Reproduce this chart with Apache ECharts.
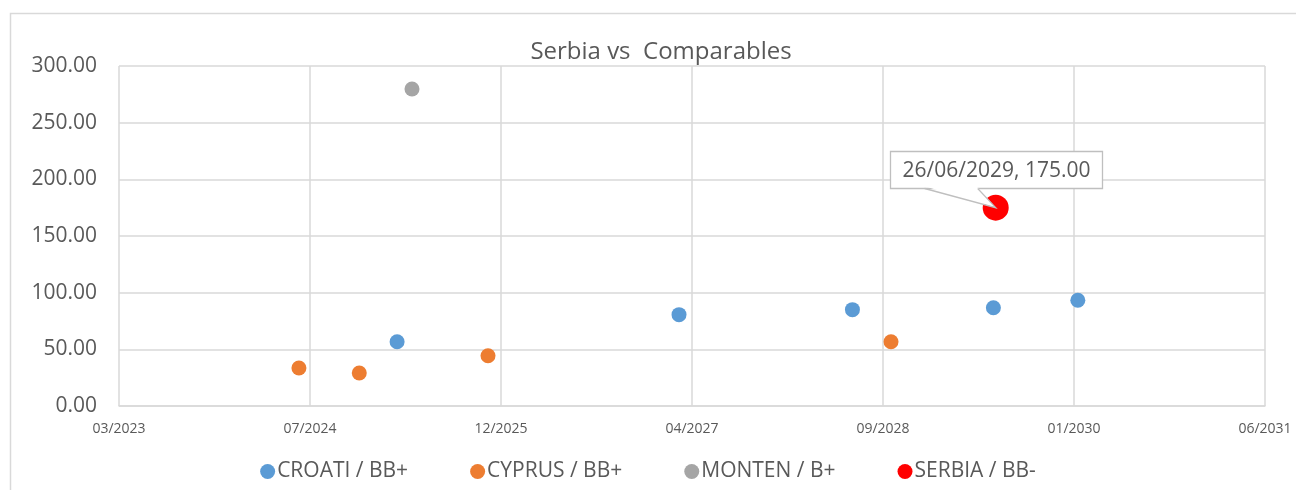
<!DOCTYPE html>
<html><head><meta charset="utf-8">
<script src="https://cdn.jsdelivr.net/npm/echarts@6/dist/echarts.min.js"></script>
<style>html,body{margin:0;padding:0;background:#fff}#c{width:1296px;height:490px}</style>
</head><body><div id="c"></div>
<script>
// X axis: Excel date serials, ticks every 500 days from 45000 (15/03/2023)
const xMin = 45000, xMax = 48000, xStep = 500;
const xTickLabels = ['03/2023','07/2024','12/2025','04/2027','09/2028','01/2030','06/2031'];
const yMin = 0, yMax = 300, yStep = 50;

const seriesNames = ['CROATI / BB+','CYPRUS / BB+','MONTEN / B+','SERBIA / BB-'];
const croatiDates  = ['2025-03-12','2027-03-20','2028-06-16','2029-06-20','2030-01-27'];
const croatiValues = [56.7, 80.6, 85.0, 86.7, 93.3];
const cyprusDates  = ['2024-06-28','2024-12-03','2025-11-05','2028-09-25'];
const cyprusValues = [33.5, 29.1, 44.4, 56.7];
const montenDates  = ['2025-04-20'];
const montenValues = [279.7];
const serbiaDates  = ['2029-06-26'];
const serbiaValues = [175.0];

const colors = ['#5B9BD5','#ED7D31','#A5A5A5','#FF0000'];
const FONT = '"Open Sans", "Noto Sans", sans-serif';
const TXT = '#595959';
const GRID = '#d9d9d9';

function serial(s){const p=s.split('-').map(Number);return (Date.UTC(p[0],p[1]-1,p[2])-Date.UTC(1899,11,30))/86400000;}
function pairs(d,v){return d.map((s,i)=>[serial(s),v[i]]);}
function dmy(s){const p=s.split('-');return p[2]+'/'+p[1]+'/'+p[0];}

const chart = echarts.init(document.getElementById('c'), null, {renderer:'canvas'});
const sizes = [15,15,15,26];
const datasets = [pairs(croatiDates,croatiValues),pairs(cyprusDates,cyprusValues),pairs(montenDates,montenValues),pairs(serbiaDates,serbiaValues)];

chart.setOption({
  animation:false,
  backgroundColor:'#fff',
  textStyle:{fontFamily:FONT},
  title:{text:'Serbia vs  Comparables', left:656, textAlign:'center', top:35,
    textStyle:{fontFamily:FONT,fontSize:24,fontWeight:'normal',color:TXT}},
  grid:{left:119,right:31,top:66,bottom:84,containLabel:false},
  legend:{bottom:3,left:'center',icon:'circle',itemWidth:15,itemHeight:15,itemGap:62,
    textStyle:{fontFamily:FONT,fontSize:21,color:TXT,padding:[0,0,0,-3]},
    data:seriesNames},
  xAxis:{type:'value',min:xMin,max:xMax,interval:xStep,
    axisLine:{show:true,lineStyle:{color:GRID,width:1.5}},axisTick:{show:false},
    splitLine:{show:true,lineStyle:{color:GRID,width:1.5}},
    axisLabel:{fontFamily:FONT,fontSize:14,color:TXT,margin:16,
      formatter:v=>xTickLabels[Math.round((v-xMin)/xStep)]||''}},
  yAxis:{type:'value',min:yMin,max:yMax,interval:yStep,
    axisLine:{show:false},axisTick:{show:false},
    splitLine:{show:true,lineStyle:{color:GRID,width:1.5}},
    axisLabel:{fontFamily:FONT,fontSize:21,color:TXT,margin:22,padding:[3,0,0,0],formatter:v=>v.toFixed(2)}},
  series:seriesNames.map((n,i)=>({name:n,type:'scatter',data:datasets[i],symbol:'circle',
    symbolSize:sizes[i],itemStyle:{color:colors[i],opacity:1},z:2+i}))
});

// callout for Serbia point
const sp = chart.convertToPixel({seriesIndex:3}, datasets[3][0]);
const px = sp[0], py = sp[1];
const calloutText = dmy(serbiaDates[0]) + ', ' + serbiaValues[0].toFixed(2);
const bw = 212, bh = 37;
const bx = Math.round(px - 106) + 0.5, by = Math.round(py - 57) + 0.5;
const wL = px - 71, wR = px - 18, wy = by + bh;
chart.setOption({graphic:[
  {type:'rect',silent:true,z:0,shape:{x:10.5,y:13.5,width:1320,height:520},
    style:{fill:'none',stroke:GRID,lineWidth:1.5}},
  {type:'rect',z:100,shape:{x:bx,y:by,width:bw,height:bh},style:{fill:'#fff',stroke:'#bfbfbf',lineWidth:1.3}},
  {type:'polygon',z:101,shape:{points:[[wL+1,wy-2],[wR-1,wy-2],[px,py]]},style:{fill:'#fff',stroke:null}},
  {type:'polyline',z:102,shape:{points:[[wL,wy],[px,py],[wR,wy]]},style:{fill:null,stroke:'#bfbfbf',lineWidth:1.3}},
  {type:'text',z:103,x:bx+bw/2,y:by+bh/2+1,style:{text:calloutText,fontFamily:FONT,fontSize:21,fill:TXT,
    align:'center',verticalAlign:'middle'}}
]});
</script></body></html>
